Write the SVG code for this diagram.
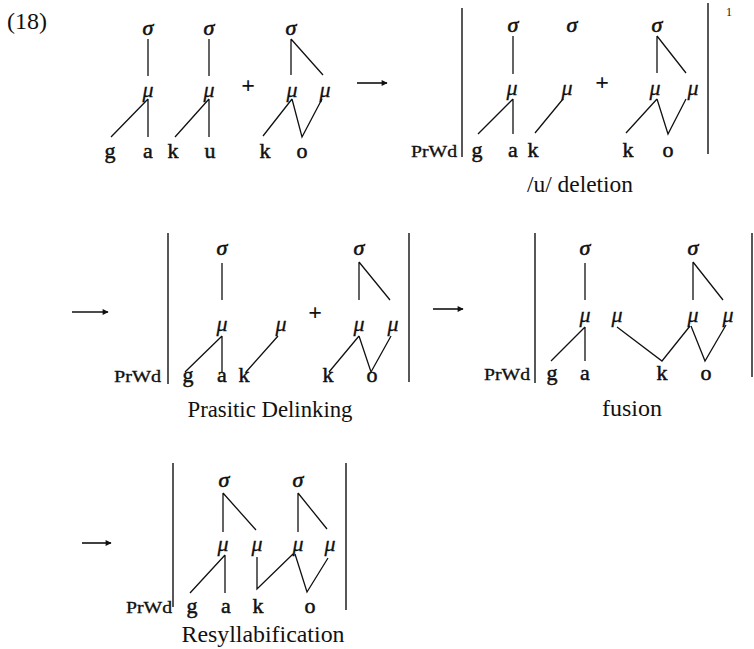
<svg xmlns="http://www.w3.org/2000/svg" width="754" height="649" viewBox="0 0 754 649">
<style>
  text { font-family: "Liberation Serif", "Times New Roman", serif; fill: #111; }
  .seg { font-size: 22px; text-anchor: middle; stroke: #111; stroke-width: 0.5; }
  .sg { font-size: 22px; font-style: italic; text-anchor: middle; stroke: #111; stroke-width: 0.6; }
  .mu { font-size: 22px; font-style: italic; text-anchor: middle; stroke: #111; stroke-width: 0.3; }
  .lab { font-size: 24px; text-anchor: middle; }
  .pw { font-size: 16px; stroke: #111; stroke-width: 0.3; }
  .plus { font-size: 24px; font-weight: bold; text-anchor: middle; }
  .ln { stroke: #111; stroke-width: 1.3; fill: none; }
  .bar { stroke: #111; stroke-width: 1.4; }
  .arr { stroke: #111; stroke-width: 1.6; marker-end: url(#ah); }
</style>
<defs>
  <marker id="ah" viewBox="0 0 10 10" refX="9" refY="5" markerWidth="9" markerHeight="6" markerUnits="userSpaceOnUse" orient="auto">
    <path d="M0,0 L10,5 L0,10 z" fill="#111"/>
  </marker>
</defs>
<rect width="754" height="649" fill="#fff"/>

<text x="7" y="29" style="font-size:24px">(18)</text>
<text x="726" y="16" style="font-size:12px">1</text>

<!-- arrows between stages -->
<g id="arrows">
  <line class="arr" x1="357" y1="83" x2="387" y2="83"/>
  <line class="arr" x1="72" y1="312" x2="108" y2="312"/>
  <line class="arr" x1="433" y1="309" x2="463" y2="309"/>
  <line class="arr" x1="82" y1="543" x2="111" y2="543"/>
</g>

<!-- stage 1: input forms -->
<g id="stage1">
  <g id="s1-nodes">
    <text class="sg" x="148" y="35">σ</text>
    <text class="sg" x="209" y="35">σ</text>
    <text class="sg" x="291" y="35">σ</text>
    <text class="mu" x="148" y="97">μ</text>
    <text class="mu" x="209" y="97">μ</text>
    <text class="mu" x="292" y="97">μ</text>
    <text class="mu" x="325" y="97">μ</text>
    <text class="plus" x="248" y="93">+</text>
    <text class="seg" x="110" y="158">g</text>
    <text class="seg" x="148" y="158">a</text>
    <text class="seg" x="173" y="158">k</text>
    <text class="seg" x="210" y="158">u</text>
    <text class="seg" x="265" y="158">k</text>
    <text class="seg" x="302" y="158">o</text>
  </g>
  <g id="s1-links" class="ln">
    <path d="M148,39 V76 M209,39 V76 M291,39 V75 M291,39 L323,75"/>
    <path d="M148,99 L111,137 M148,99 V137 M209,99 L175,137 M209,99 V137"/>
    <path d="M292,99 L263,136 M292,99 L302,137 L322,99"/>
  </g>
</g>

<!-- stage 2: /u/ deletion -->
<g id="stage2">
  <g id="s2-nodes">
    <line class="bar" x1="462" y1="8" x2="462" y2="157"/>
    <line class="bar" x1="708" y1="3" x2="708" y2="154"/>
    <text class="pw" x="411" y="157" textLength="46" lengthAdjust="spacingAndGlyphs">PrWd</text>
    <text class="sg" x="513" y="32">σ</text>
    <text class="sg" x="572" y="32">σ</text>
    <text class="sg" x="657" y="32">σ</text>
    <text class="mu" x="512" y="95">μ</text>
    <text class="mu" x="567" y="95">μ</text>
    <text class="mu" x="655" y="95">μ</text>
    <text class="mu" x="693" y="95">μ</text>
    <text class="plus" x="602" y="90">+</text>
    <text class="seg" x="477" y="157">g</text>
    <text class="seg" x="513" y="157">a</text>
    <text class="seg" x="533" y="157">k</text>
    <text class="seg" x="628" y="157">k</text>
    <text class="seg" x="668" y="157">o</text>
    <text class="lab" x="580" y="192" textLength="106" lengthAdjust="spacingAndGlyphs">/u/ deletion</text>
  </g>
  <g id="s2-links" class="ln">
    <path d="M513,36 V74 M657,36 V73 M657,36 L686,73"/>
    <path d="M513,99 L478,134 M513,99 V134 M563,99 L535,133"/>
    <path d="M657,99 L626,133 M657,99 L668,134 L686,99"/>
  </g>
</g>

<!-- stage 3: parasitic delinking -->
<g id="stage3">
  <g id="s3-nodes">
    <line class="bar" x1="168" y1="233" x2="168" y2="384"/>
    <line class="bar" x1="409" y1="233" x2="409" y2="382"/>
    <text class="pw" x="114" y="382" textLength="47" lengthAdjust="spacingAndGlyphs">PrWd</text>
    <text class="sg" x="222" y="255">σ</text>
    <text class="sg" x="359" y="255">σ</text>
    <text class="mu" x="222" y="331">μ</text>
    <text class="mu" x="281" y="331">μ</text>
    <text class="mu" x="359" y="331">μ</text>
    <text class="mu" x="393" y="331">μ</text>
    <text class="plus" x="315" y="320">+</text>
    <text class="seg" x="188" y="382">g</text>
    <text class="seg" x="222" y="382">a</text>
    <text class="seg" x="244" y="382">k</text>
    <text class="seg" x="328" y="382">k</text>
    <text class="seg" x="372" y="382">o</text>
    <text class="lab" x="270" y="417" textLength="165" lengthAdjust="spacingAndGlyphs">Prasitic Delinking</text>
  </g>
  <g id="s3-links" class="ln">
    <path d="M222,263 V300 M359,262 V300 M359,262 L390,300"/>
    <path d="M222,336 L185,372 M222,336 V372 M278,336 L246,372"/>
    <path d="M359,336 L329,372 M359,336 L371,372 L391,336"/>
  </g>
</g>

<!-- stage 4: fusion -->
<g id="stage4">
  <g id="s4-nodes">
    <line class="bar" x1="535" y1="233" x2="535" y2="383"/>
    <line class="bar" x1="752" y1="233" x2="752" y2="377"/>
    <text class="pw" x="484" y="380" textLength="46" lengthAdjust="spacingAndGlyphs">PrWd</text>
    <text class="sg" x="585" y="255">σ</text>
    <text class="sg" x="693" y="255">σ</text>
    <text class="mu" x="585" y="322">μ</text>
    <text class="mu" x="617" y="322">μ</text>
    <text class="mu" x="693" y="322">μ</text>
    <text class="mu" x="728" y="322">μ</text>
    <text class="seg" x="552" y="380">g</text>
    <text class="seg" x="585" y="380">a</text>
    <text class="seg" x="662" y="380">k</text>
    <text class="seg" x="706" y="380">o</text>
    <text class="lab" x="632" y="416">fusion</text>
  </g>
  <g id="s4-links" class="ln">
    <path d="M585,263 V300 M693,262 V300 M693,262 L723,300"/>
    <path d="M585,327 L551,361 M585,327 V361 M617,327 L662,361 L690,326"/>
    <path d="M691,326 L705,361 L726,325"/>
  </g>
</g>

<!-- stage 5: resyllabification -->
<g id="stage5">
  <g id="s5-nodes">
    <line class="bar" x1="173" y1="463" x2="173" y2="607"/>
    <line class="bar" x1="346" y1="463" x2="346" y2="610"/>
    <text class="pw" x="126" y="613" textLength="46" lengthAdjust="spacingAndGlyphs">PrWd</text>
    <text class="sg" x="224" y="487">σ</text>
    <text class="sg" x="298" y="487">σ</text>
    <text class="mu" x="223" y="551">μ</text>
    <text class="mu" x="257" y="551">μ</text>
    <text class="mu" x="298" y="551">μ</text>
    <text class="mu" x="330" y="551">μ</text>
    <text class="seg" x="192" y="613">g</text>
    <text class="seg" x="226" y="613">a</text>
    <text class="seg" x="258" y="613">k</text>
    <text class="seg" x="310" y="613">o</text>
    <text class="lab" x="263" y="642" textLength="163" lengthAdjust="spacingAndGlyphs">Resyllabification</text>
  </g>
  <g id="s5-links" class="ln">
    <path d="M223,493 V532 M223,493 L256,530 M298,493 V532 M298,493 L327,529"/>
    <path d="M225,555 L190,593 M225,555 V593 M257,557 V589 L293,554"/>
    <path d="M295,554 L307,592 L328,558"/>
  </g>
</g>
</svg>
